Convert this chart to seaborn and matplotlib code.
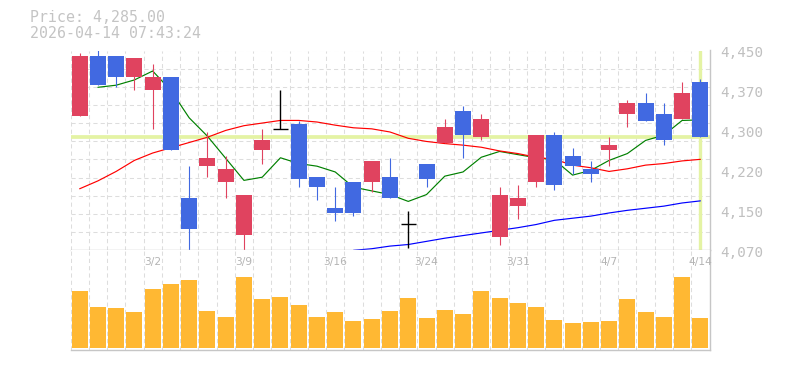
import numpy as np
import pandas as pd
import matplotlib
matplotlib.use('Agg')
import matplotlib.pyplot as plt
import matplotlib.transforms as mtransforms
import seaborn as sns

# ---------------- data ----------------
dates = ['2/24', '2/25', '2/26', '2/27', '3/2', '3/3', '3/4', '3/5', '3/6', '3/9',
         '3/10', '3/11', '3/12', '3/13', '3/16', '3/17', '3/18', '3/19', '3/23', '3/24',
         '3/25', '3/26', '3/27', '3/30', '3/31', '4/1', '4/2', '4/3', '4/6', '4/7',
         '4/8', '4/9', '4/10', '4/13', '4/14']
opens = [4325, 4440, 4440, 4400, 4375, 4400, 4170, 4230, 4200, 4100,
         4260, 4300, 4310, 4210, 4150, 4200, 4200, 4210, 4120, 4235,
         4275, 4335, 4285, 4095, 4155, 4200, 4290, 4250, 4225, 4260,
         4330, 4350, 4330, 4320, 4390]
highs = [4445, 4450, 4440, 4435, 4425, 4400, 4230, 4295, 4250, 4175,
         4300, 4375, 4315, 4210, 4190, 4200, 4240, 4245, 4145, 4235,
         4320, 4345, 4330, 4190, 4195, 4290, 4295, 4265, 4240, 4285,
         4355, 4370, 4350, 4390, 4395]
lows = [4325, 4385, 4380, 4375, 4300, 4260, 4065, 4210, 4170, 4065,
        4235, 4300, 4190, 4165, 4125, 4135, 4180, 4170, 4075, 4190,
        4275, 4245, 4280, 4080, 4130, 4190, 4185, 4215, 4200, 4230,
        4305, 4315, 4270, 4320, 4285]
closes = [4440, 4385, 4400, 4435, 4400, 4260, 4110, 4245, 4225, 4175,
          4280, 4300, 4205, 4190, 4140, 4140, 4240, 4170, 4120, 4205,
          4305, 4290, 4320, 4175, 4170, 4290, 4195, 4230, 4215, 4270,
          4350, 4315, 4280, 4370, 4285]
volumes = [1730, 1250, 1220, 1100, 1790, 1940, 2060, 1130, 950, 2150,
           1490, 1550, 1310, 950, 1100, 830, 890, 1130, 1520, 920,
           1160, 1040, 1730, 1520, 1370, 1250, 860, 770, 800, 830,
           1490, 1100, 950, 2150, 920]
ma_short = [np.nan, 4380, 4384, 4394, 4411, 4374, 4322, 4287, 4245, 4203,
            4209, 4246, 4235, 4230, 4219, 4190, 4183, 4176, 4163, 4176,
            4211, 4219, 4247, 4258, 4252, 4246, 4242, 4213, 4222, 4241,
            4254, 4279, 4289, 4317, 4318]
ma_mid = [4187, 4202, 4220, 4241, 4255, 4265, 4275, 4285, 4298, 4307,
          4312, 4317, 4317, 4314, 4308, 4303, 4301, 4295, 4283, 4277,
          4273, 4270, 4266, 4259, 4254, 4247, 4243, 4232, 4227, 4220,
          4225, 4232, 4235, 4240, 4243]
ma_long = [np.nan] * 15 + [4070, 4073, 4078, 4081, 4087, 4093, 4098, 4103, 4108, 4113,
                           4119, 4127, 4131, 4135, 4141, 4146, 4150, 4154, 4160, 4164]
ytick_labels = ['4,450', '4,370', '4,300', '4,220', '4,150', '4,070']
xtick_dates = ['3/2', '3/9', '3/16', '3/24', '3/31', '4/7', '4/14']
last_price = 4285.00
timestamp = '2026-04-14 07:43:24'
price_min, price_max = 4070, 4450

# ---------------- styling ----------------
sns.set_theme(style='white')
plt.rcParams['font.family'] = ['DejaVu Sans']

RED = '#e0435f'
BLUE = '#4169e1'
GRID = '#dddddd'
SPINE = '#c6c6c6'
TXT = '#c0c0c0'
HILITE = '#e4f3a4'

W, H = 785, 370
fig = plt.figure(figsize=(W / 100, H / 100), dpi=100)
ax = fig.add_axes([70.5 / W, 1 - 250.3 / H, 639 / W, 199.8 / H])
vax = fig.add_axes([70.5 / W, 1 - 349.5 / H, 639 / W, 99.5 / H])

n = len(dates)
idx = np.arange(n)
o = np.array(opens, float); c = np.array(closes, float)
h = np.array(highs, float); l = np.array(lows, float)

# grid
dash = (0, (4, 3))
for a in (ax, vax):
    for i in range(n + 1):
        a.axvline(i - 0.5, color=GRID, lw=0.75, ls=dash, zorder=0.5)
for k in range(1, 12):
    ax.axhline(price_min + k * (price_max - price_min) / 11, color=GRID, lw=0.75, ls=dash, zorder=0.5)

# current price highlight
ax.axhline(last_price, color=HILITE, lw=2.7, zorder=1)
ax.axvline(n - 1, color=HILITE, lw=2.4, zorder=1)

# moving averages
ms = np.array(ma_short); mm = np.array(ma_mid); ml = np.array(ma_long)
for arr, col in ((ms, '#008000'), (mm, '#ff0000'), (ml, '#0000ff')):
    ok = ~np.isnan(arr)
    sns.lineplot(x=idx[ok], y=arr[ok], ax=ax, color=col, linewidth=0.85, zorder=2)

# candles
up = c > o
down = c < o
doji = c == o
for mask, col in ((up, RED), (down, BLUE)):
    ax.vlines(idx[mask], l[mask], h[mask], color=col, lw=0.8, zorder=3)
    ax.bar(idx[mask], np.abs(c - o)[mask], bottom=np.minimum(o, c)[mask],
           width=0.876, color=col, linewidth=0, zorder=4)
ax.vlines(idx[doji], l[doji], h[doji], color='black', lw=1.0, zorder=4)
ax.hlines(c[doji], idx[doji] - 0.42, idx[doji] + 0.42, color='black', lw=1.0, zorder=4)

ax.set_xlim(-0.5, n - 0.5)
ax.set_ylim(price_min, price_max)

# volume
df = pd.DataFrame({'idx': idx, 'volume': volumes})
sns.barplot(data=df, x='idx', y='volume', ax=vax, color='#ffb833', saturation=1,
            width=0.876, native_scale=True, errorbar=None, linewidth=0, zorder=2)
vax.set_xlim(-0.5, n - 0.5)
vax.set_ylim(-36, 2949)
vax.set_xlabel('')
vax.set_ylabel('')

for a in (ax, vax):
    a.set_xticks([])
    a.set_yticks([])
    a.set_facecolor('white')
    for s in ('top', 'left'):
        a.spines[s].set_visible(False)
    for s in ('right', 'bottom'):
        a.spines[s].set_color(SPINE)
        a.spines[s].set_linewidth(1.0)
        a.spines[s].set_zorder(5)

# y labels
ytrans = mtransforms.blended_transform_factory(ax.transAxes, ax.transData) + \
    mtransforms.ScaledTranslation(10.5 / 100, -3 / 100, fig.dpi_scale_trans)
for v, lab in zip(np.linspace(price_max, price_min, len(ytick_labels)), ytick_labels):
    ax.text(1, v, lab, transform=ytrans, ha='left', va='center', fontsize=10.3,
            family='DejaVu Sans Mono', color=TXT, clip_on=False)

# x labels
xtrans = mtransforms.blended_transform_factory(vax.transData, vax.transAxes)
for d in xtick_dates:
    vax.text(dates.index(d), 1 - 12 / 99.5, d, transform=xtrans, ha='center', va='center',
             fontsize=7.7, color='#b4b4b4', zorder=6, clip_on=False)

# header
fig.text(30 / W, 1 - 18 / H, f'Price: {last_price:,.2f}', family='DejaVu Sans Mono',
         fontsize=10.7, color='#c4c4c4', ha='left', va='center')
fig.text(30 / W, 1 - 33 / H, timestamp, family='DejaVu Sans Mono',
         fontsize=10.7, color='#c4c4c4', ha='left', va='center')

fig.savefig('out.png', dpi=100, facecolor='white')
